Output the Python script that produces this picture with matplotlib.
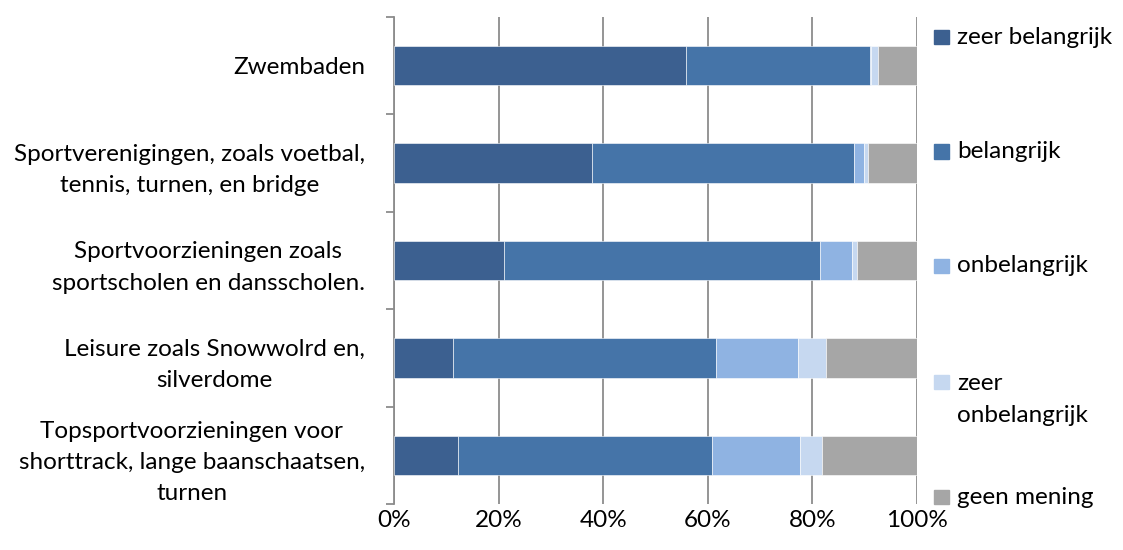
import numpy as np
import matplotlib.pyplot as plt
from matplotlib.patches import Rectangle
from matplotlib.ticker import FixedLocator, PercentFormatter

plt.rcParams['font.family'] = ['Lato', 'DejaVu Sans']

# Categorieën (van boven naar onder)
categorieen = [
    'Zwembaden',
    'Sportverenigingen, zoals voetbal,\ntennis, turnen, en bridge',
    'Sportvoorzieningen zoals\nsportscholen en dansscholen.',
    'Leisure zoals Snowwolrd en,\nsilverdome',
    'Topsportvoorzieningen voor\nshorttrack, lange baanschaatsen,\nturnen',
]

# Percentages per antwoordcategorie
zeer_belangrijk = [55.8, 37.9, 21.0, 11.2, 12.2]
belangrijk = [35.2, 50.1, 60.5, 50.4, 48.6]
onbelangrijk = [0.3, 1.9, 6.1, 15.6, 16.8]
zeer_onbelangrijk = [1.3, 0.8, 0.9, 5.4, 4.2]
geen_mening = [7.4, 9.3, 11.5, 17.4, 18.2]

reeksen = ['zeer belangrijk', 'belangrijk', 'onbelangrijk', 'zeer\nonbelangrijk', 'geen mening']
kleuren = ['#3C6090', '#4574A8', '#8FB3E2', '#C6D8F0', '#A6A6A6']

data = [zeer_belangrijk, belangrijk, onbelangrijk, zeer_onbelangrijk, geen_mening]

W, H = 1123, 550
fs = 17.5
fig = plt.figure(figsize=(W / 100, H / 100), dpi=100)
ax = fig.add_axes([394 / W, 46 / H, 523 / W, 487 / H])

y = np.arange(len(categorieen))
links = np.zeros(len(categorieen))
for waarden, naam, kleur in zip(data, reeksen, kleuren):
    ax.barh(y, waarden, left=links, height=0.405, color=kleur, label=naam,
            edgecolor='white', linewidth=0.4, zorder=3)
    links += np.array(waarden)

ax.set_xlim(0, 100)
ax.set_ylim(len(categorieen) - 0.5, -0.5)
ax.set_xticks(np.arange(0, 101, 20))
ax.xaxis.set_major_formatter(PercentFormatter(decimals=0))
ax.set_yticks(y)
ax.set_yticklabels(categorieen, multialignment='center', linespacing=1.6)
ax.yaxis.set_minor_locator(FixedLocator(np.arange(-0.5, len(categorieen), 1)))

ax.grid(axis='x', color='#8C8C8C', linewidth=1.3, zorder=0)
for s in ['top', 'right', 'bottom']:
    ax.spines[s].set_visible(False)
ax.spines['left'].set_color('#8C8C8C')
ax.spines['left'].set_linewidth(1.3)
ax.tick_params(axis='y', which='major', length=0, pad=21, labelsize=fs)
ax.tick_params(axis='y', which='minor', length=6, color='#8C8C8C', width=1.3)
ax.tick_params(axis='x', length=0, labelsize=fs, pad=4)

# legenda rechts, gelijk verdeeld zoals in Excel
leg_y = [37, 151.5, 266, 381.5, 497]
for naam, kleur, yc in zip(reeksen, kleuren, leg_y):
    fig.patches.append(Rectangle((934 / W, 1 - (yc + 7) / H), 15 / W, 14 / H,
                                 transform=fig.transFigure, color=kleur))
    if '\n' in naam:
        fig.text(957 / W, 1 - (yc - 8) / H, naam, fontsize=fs, va='top',
                 linespacing=1.6)
    else:
        fig.text(957 / W, 1 - yc / H, naam, fontsize=fs, va='center')

fig.savefig('out.png', dpi=100)
